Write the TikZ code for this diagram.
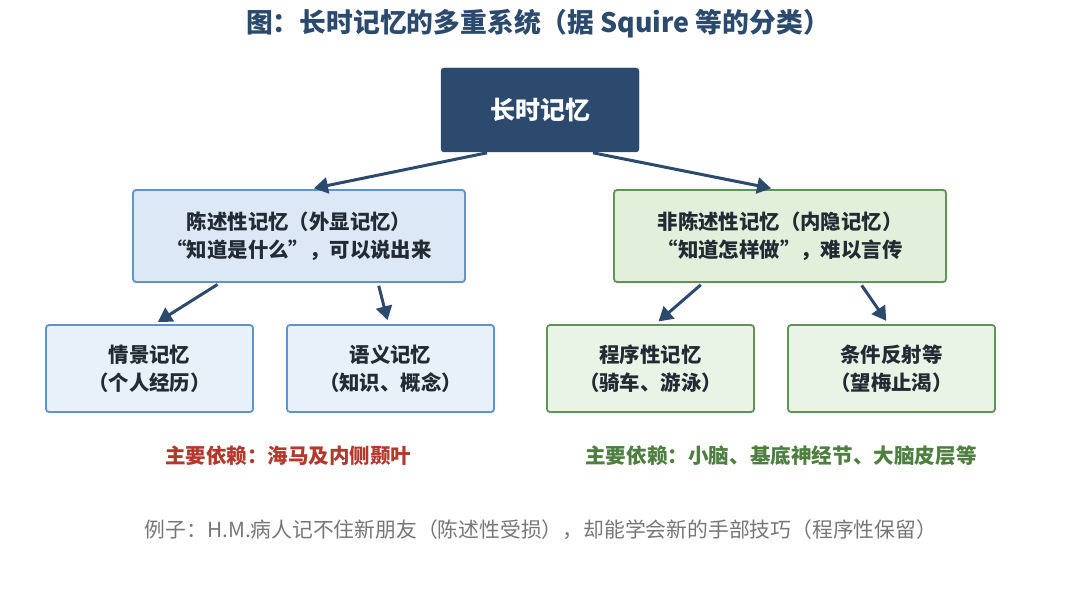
\documentclass[tikz,border=0pt]{standalone}
\usepackage{fontspec}
\setmainfont{Noto Sans CJK SC}
\usetikzlibrary{arrows.meta}
\definecolor{navy}{HTML}{2C4A6E}
\definecolor{bluefill}{HTML}{DCE8F6}
\definecolor{bluelight}{HTML}{E8F0FA}
\definecolor{blueline}{HTML}{5F93CC}
\definecolor{greenfill}{HTML}{E2EFDA}
\definecolor{greenlight}{HTML}{EAF4E6}
\definecolor{greenline}{HTML}{5E9457}
\definecolor{txt}{HTML}{222A33}
\definecolor{redtxt}{HTML}{B3392C}
\definecolor{greentxt}{HTML}{4E7F40}
\definecolor{graytxt}{HTML}{767676}
\begin{document}
\begin{tikzpicture}[x=1pt, y=-1pt,
    root/.style={draw=navy, fill=navy, rounded corners=3pt, minimum width=198pt, minimum height=84pt, text=white, font=\fontsize{25}{30}\selectfont\bfseries},
    declbox/.style={draw=blueline, fill=bluefill, line width=1.8pt, rounded corners=3pt, minimum width=332pt, minimum height=92pt, align=center, text=txt, font=\fontsize{20.4}{28}\selectfont\bfseries},
    ndeclbox/.style={declbox, draw=greenline, fill=greenfill},
    subblue/.style={declbox, fill=bluelight, minimum width=207pt, minimum height=87pt},
    subgreen/.style={subblue, draw=greenline, fill=greenlight},
    link/.style={-{Triangle[length=14pt, width=16pt]}, line width=3pt, draw=navy, shorten <=3pt, shorten >=4pt}]
    \useasboundingbox (0, 0) rectangle (1080, 599);

    \node[text=navy, font=\fontsize{26.8}{32}\selectfont\bfseries] at (538, 24) (title) {图：长时记忆的多重系统（据 Squire 等的分类）};

    \node[root] at (540, 110) (ltm) {长时记忆};
    \node[declbox] at (299, 236) (decl) {陈述性记忆（外显记忆）\\“知道是什么”，可以说出来};
    \node[ndeclbox] at (780, 236) (ndecl) {非陈述性记忆（内隐记忆）\\“知道怎样做”，难以言传};

    \node[subblue] at (149.5, 368.5) (epi) {情景记忆\\（个人经历）};
    \node[subblue] at (390.5, 368.5) (sem) {语义记忆\\（知识、概念）};
    \node[subgreen] at (650.5, 368.5) (proc) {程序性记忆\\（骑车、游泳）};
    \node[subgreen] at (891.5, 368.5) (cond) {条件反射等\\（望梅止渴）};

    \draw[link] ([xshift=-50pt]ltm.south) to ([xshift=11pt]decl.north);
    \draw[link] ([xshift=50pt]ltm.south) to ([xshift=-5pt]ndecl.north);
    \draw[link] ([xshift=-79pt]decl.south) to ([xshift=5pt]epi.north);
    \draw[link] ([xshift=79pt]decl.south) to ([xshift=-2pt]sem.north);
    \draw[link] ([xshift=-77pt]ndecl.south) to ([xshift=5pt]proc.north);
    \draw[link] ([xshift=80pt]ndecl.south) to ([xshift=-3pt]cond.north);

    \node[text=redtxt, font=\fontsize{20.5}{24}\selectfont\bfseries] at (288, 456) (hippo) {主要依赖：海马及内侧颞叶};
    \node[text=greentxt, font=\fontsize{20.6}{24}\selectfont\bfseries] at (781, 456) (cereb) {主要依赖：小脑、基底神经节、大脑皮层等};
    \node[text=graytxt, font=\fontsize{20.8}{24}\selectfont] at (541, 530) (hm) {例子：H.M.病人记不住新朋友（陈述性受损），却能学会新的手部技巧（程序性保留）};
\end{tikzpicture}
\end{document}
